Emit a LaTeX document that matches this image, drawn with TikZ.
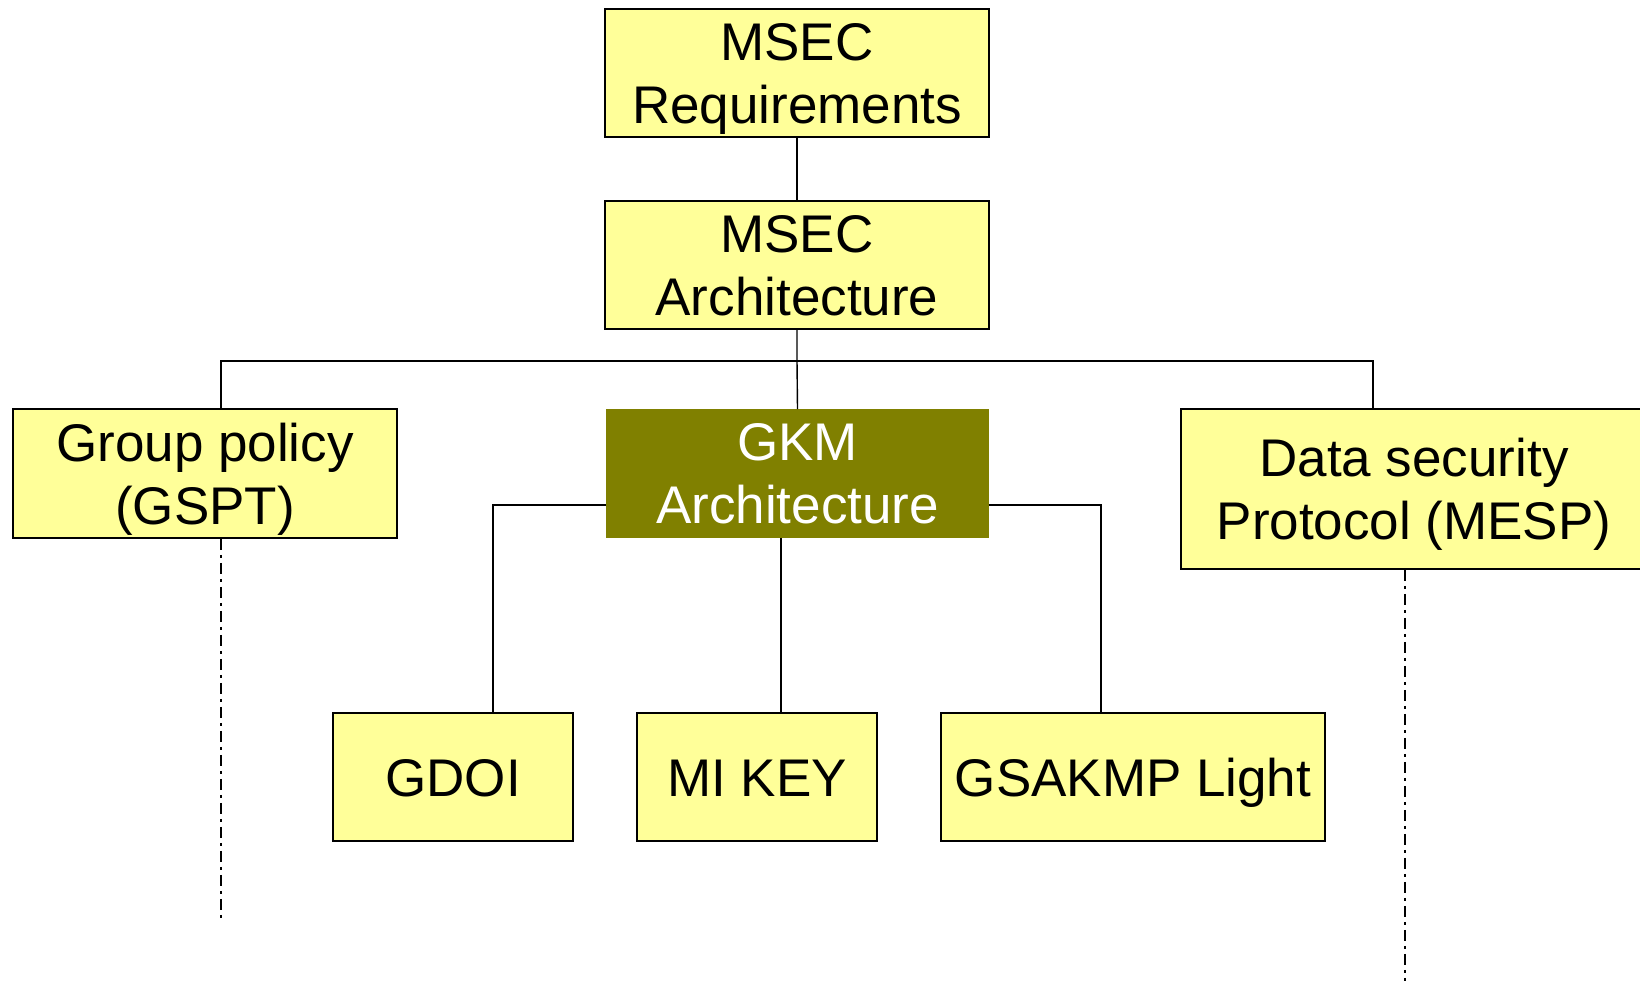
\documentclass[tikz,border=0pt]{standalone}
\usepackage{fontspec}
\setmainfont{Liberation Sans}
\definecolor{boxyellow}{HTML}{FFFF99}
\definecolor{gkmolive}{HTML}{808000}
\begin{document}
\begin{tikzpicture}[x=1pt,y=-1pt,
  box/.style={draw=black, line width=1.6pt, fill=boxyellow, rectangle, inner sep=0pt,
    align=center, font=\fontsize{53}{63}\selectfont, text=black, text depth=0pt},
  onebox/.style={box, text height=38pt},
  darkbox/.style={box, draw=gkmolive, fill=gkmolive, text=white},
  link/.style={draw=black, line width=1.4pt},
  dashlink/.style={draw=black, line width=2pt, dash pattern=on 11pt off 5pt on 3pt off 5pt}]
\useasboundingbox (0,0) rectangle (1640,980);

% boxes
\node[box, minimum width=384pt, minimum height=128pt] (req) at (797,73) {MSEC\\Requirements};
\node[box, minimum width=384pt, minimum height=128pt] (arch) at (797,265) {MSEC\\Architecture};
\node[box, minimum width=384pt, minimum height=129pt] (gp) at (205,473.5) {Group policy\\(GSPT)};
\node[darkbox, minimum width=381pt, minimum height=127pt] (gkm) at (797.5,473.5) {GKM\\Architecture};
\node[box, minimum width=466pt, minimum height=160pt] (ds) at (1414,489) {Data security\\Protocol (MESP)};
\node[onebox, minimum width=240pt, minimum height=128pt] (gdoi) at (453,777) {GDOI};
\node[onebox, minimum width=240pt, minimum height=128pt] (mikey) at (757,777) {MI KEY};
\node[onebox, minimum width=384pt, minimum height=128pt] (gsakmp) at (1133,777) {GSAKMP Light};

% junction points
\coordinate (bus) at (797,361);
\coordinate (busL) at (221,361);
\coordinate (busR) at (1373,361);
\coordinate (side) at (0,505);
\coordinate (cL) at (493,0);
\coordinate (cM) at (781,0);
\coordinate (cR) at (1101,0);
\coordinate (endL) at (221,920);
\coordinate (endR) at (1405,985);

% tree connectors
\draw[link] (req.south) -- (arch.north);
\draw[link] (arch.south) -- (bus) -- (gkm.north);
\draw[link] (busL |- gp.north) -- (busL) -- (busR) -- (busR |- ds.north);
\draw[link] (gkm.west |- side) -| (cL |- gdoi.north);
\draw[link] (cM |- gkm.south) -- (cM |- mikey.north);
\draw[link] (gkm.east |- side) -| (cR |- gsakmp.north);

% open-ended dash-dot leads
\draw[dashlink] (endL |- gp.south) -- (endL);
\draw[dashlink] (endR |- ds.south) -- (endR);
\end{tikzpicture}
\end{document}
